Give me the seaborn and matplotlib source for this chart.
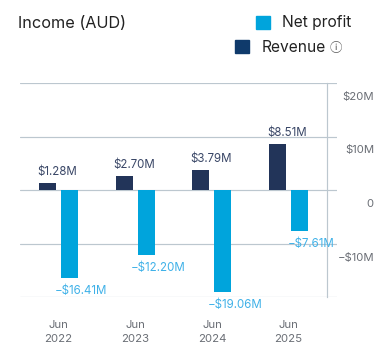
"""
Income (AUD): revenue and net profit per financial year
"""
import matplotlib
matplotlib.use("Agg")
import matplotlib.pyplot as plt
from matplotlib.patches import Patch
from matplotlib.transforms import ScaledTranslation
import pandas as pd
import seaborn as sns

periods = ['Jun\n2022', 'Jun\n2023', 'Jun\n2024', 'Jun\n2025']
revenue = [1.28, 2.70, 3.79, 8.51]
net_profit = [-16.41, -12.20, -19.06, -7.61]
revenue_labels = ['$1.28M', '$2.70M', '$3.79M', '$8.51M']
net_labels = ['−$16.41M', '−$12.20M', '−$19.06M', '−$7.61M']
y_ticks = [20, 10, 0, -10, -20]
y_labels = ['$20M', '$10M', '0', '−$10M', '']

GRID = '#bcc7cf'
NAVY = '#223459'
BLUE = '#00a4dc'
W, H = 386, 353

sns.set_theme(style='white')
plt.rcParams['font.family'] = ['Inter', 'DejaVu Sans']

df = pd.DataFrame({
    'period': periods * 2,
    'value': revenue + net_profit,
    'kind': ['Revenue'] * 4 + ['Net profit'] * 4,
})

fig = plt.figure(figsize=(W / 100, H / 100), dpi=100)
ax = fig.add_axes([20 / W, (H - 297) / H, 317 / W, 214 / H])
sns.barplot(data=df, x='period', y='value', hue='kind',
            hue_order=['Revenue', 'Net profit'],
            palette={'Revenue': NAVY, 'Net profit': BLUE},
            width=0.574, gap=0.228, saturation=1, linewidth=0,
            legend=False, ax=ax)

ax.set_xlim(-0.502, 3.63)
ax.set_ylim(-20, 20)
ax.set_xlabel('')
ax.set_ylabel('')
ax.set_axisbelow(True)
ax.yaxis.grid(True, color=GRID, lw=0.85)
ax.xaxis.grid(False)

for side in ['top', 'bottom', 'left']:
    ax.spines[side].set_visible(False)
ax.spines['right'].set_position(('data', 3.5))
ax.spines['right'].set_color(GRID)
ax.spines['right'].set_linewidth(0.85)

# tick labels sit under their gridline, not beside it
ax.yaxis.tick_right()
ax.set_yticks(y_ticks)
ax.set_yticklabels(y_labels)
ax.tick_params(axis='y', length=0, pad=25.9, labelsize=8.2, labelcolor='#6b6f76')
shift = ScaledTranslation(11 / 100, -13 / 100, fig.dpi_scale_trans)
for lab in ax.get_yticklabels():
    lab.set_horizontalalignment('right')
    lab.set_transform(lab.get_transform() + shift)
ax.tick_params(axis='x', length=0, pad=16.5, labelsize=8.2, labelcolor='#6b6f76')
for lab in ax.get_xticklabels():
    lab.set_linespacing(1.5)

# value labels are nudged right of their bars
for bars, texts, color, dx, dy in [(ax.containers[0], revenue_labels, '#3a4767', 7, 11),
                                   (ax.containers[1], net_labels, '#3fb1e8', 8.5, -13)]:
    for bar, text in zip(bars, texts):
        y = bar.get_y() + bar.get_height()
        ax.annotate(text, (bar.get_x() + bar.get_width() / 2, y),
                    xytext=(dx, dy * 0.72), textcoords='offset points',
                    ha='center', va='center', fontsize=8.3, color=color,
                    annotation_clip=False)

fig.text(18 / W, 1 - 24 / H, 'Income (AUD)', fontsize=11.7, color='#222222',
         ha='left', va='center')

net_legend = fig.legend(handles=[Patch(color=BLUE, label='Net profit')],
                        loc='center left', bbox_to_anchor=(256 / W, 1 - 23 / H),
                        frameon=False, fontsize=11.2, handlelength=0.9,
                        handleheight=0.9, handletextpad=0.8,
                        labelcolor='#222222', borderpad=0, borderaxespad=0)
rev_legend = fig.legend(handles=[Patch(color='#0f3a6b', label='Revenue')],
                        loc='center left', bbox_to_anchor=(235 / W, 1 - 47 / H),
                        frameon=False, fontsize=11.2, handlelength=0.9,
                        handleheight=0.9, handletextpad=0.8,
                        labelcolor='#222222', borderpad=0, borderaxespad=0)
fig.text(336 / W, 1 - 48.5 / H, 'ⓘ', fontsize=9, color='#555555',
         family=['Noto Sans CJK SC', 'DejaVu Sans'], ha='center', va='center')

fig.savefig('out.png', dpi=100)
